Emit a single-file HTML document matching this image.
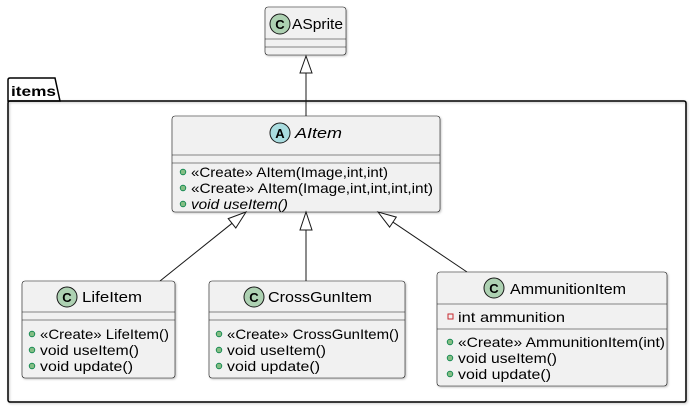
<!DOCTYPE html>
<html><head><meta charset="utf-8"><style>
html,body{margin:0;padding:0;background:#fff;width:690px;height:408px;overflow:hidden}
svg text{font-family:"Liberation Sans",sans-serif;fill:#000}
.n{font-size:15px}.m{font-size:14px}
</style></head><body>
<svg width="690" height="408" xmlns="http://www.w3.org/2000/svg">
<defs><filter id="s" x="-5%" y="-5%" width="110%" height="115%"><feDropShadow dx="1" dy="1" stdDeviation="1" flood-opacity="0.25"/></filter></defs>
<path d="M8,101 L8,80 Q8,78 10,78 L55,78 L60,101 Z" fill="none" stroke="#000" stroke-width="1.5"/>
<rect x="8" y="101" width="678" height="301" rx="2" fill="none" stroke="#000" stroke-width="1.5" filter="url(#s)"/>
<text x="11" y="96" style="font-size:14px;font-weight:bold" textLength="45" lengthAdjust="spacingAndGlyphs">items</text>
<!-- ASprite -->
<rect x="265" y="7" width="81" height="48" rx="3" fill="#f1f1f1" stroke="#181818" stroke-width="0.6" filter="url(#s)"/>
<line x1="265" y1="39" x2="346" y2="39" stroke="#181818" stroke-width="0.6"/>
<line x1="265" y1="47" x2="346" y2="47" stroke="#181818" stroke-width="0.6"/>
<circle cx="280" cy="24" r="10" fill="#add1b2" stroke="#181818" stroke-width="1"/>
<text x="280" y="29" text-anchor="middle" style="font-size:13px;font-weight:bold">C</text>
<text x="292" y="29" class="n" textLength="51" lengthAdjust="spacingAndGlyphs">ASprite</text>
<line x1="306" y1="73" x2="306" y2="116" stroke="#181818"/>
<polygon points="306,56 300,73 312,73" fill="#fff" stroke="#181818"/>
<!-- AItem -->
<rect x="172" y="116" width="268" height="96" rx="3" fill="#f1f1f1" stroke="#181818" stroke-width="0.6" filter="url(#s)"/>
<line x1="172" y1="155" x2="440" y2="155" stroke="#181818" stroke-width="0.6"/>
<line x1="172" y1="163" x2="440" y2="163" stroke="#181818" stroke-width="0.6"/>
<circle cx="280" cy="133" r="10" fill="#a9dcdf" stroke="#181818" stroke-width="1"/>
<text x="280" y="138" text-anchor="middle" style="font-size:13px;font-weight:bold">A</text>
<text x="295" y="138" class="n" font-style="italic" textLength="47" lengthAdjust="spacingAndGlyphs">AItem</text>
<circle cx="183" cy="172" r="2.8" fill="#84be84" stroke="#038048" stroke-width="0.8"/>
<text x="191" y="177" class="m" textLength="197" lengthAdjust="spacingAndGlyphs">«Create» AItem(Image,int,int)</text>
<circle cx="183" cy="188" r="2.8" fill="#84be84" stroke="#038048" stroke-width="0.8"/>
<text x="191" y="193" class="m" textLength="242" lengthAdjust="spacingAndGlyphs">«Create» AItem(Image,int,int,int,int)</text>
<circle cx="183" cy="204" r="2.8" fill="#84be84" stroke="#038048" stroke-width="0.8"/>
<text x="191" y="209" class="m" font-style="italic" textLength="97" lengthAdjust="spacingAndGlyphs">void useItem()</text>
<!-- arrows -->
<line x1="232" y1="223.3" x2="160" y2="281" stroke="#181818"/>
<polygon points="246,212 235.8,228 228.2,218.6" fill="#fff" stroke="#181818"/>
<line x1="306" y1="230" x2="306" y2="281" stroke="#181818"/>
<polygon points="306,212 300,230 312,230" fill="#fff" stroke="#181818"/>
<line x1="392.9" y1="222.1" x2="467" y2="272" stroke="#181818"/>
<polygon points="378,212 389.6,227.1 396.3,217.1" fill="#fff" stroke="#181818"/>
<!-- LifeItem -->
<rect x="22" y="281" width="153" height="97" rx="3" fill="#f1f1f1" stroke="#181818" stroke-width="0.6" filter="url(#s)"/>
<line x1="22" y1="312" x2="175" y2="312" stroke="#181818" stroke-width="0.6"/>
<line x1="22" y1="320" x2="175" y2="320" stroke="#181818" stroke-width="0.6"/>
<circle cx="67" cy="297" r="10" fill="#add1b2" stroke="#181818" stroke-width="1"/>
<text x="67" y="302" text-anchor="middle" style="font-size:13px;font-weight:bold">C</text>
<text x="82" y="302" class="n" textLength="60" lengthAdjust="spacingAndGlyphs">LifeItem</text>
<circle cx="32" cy="334" r="2.8" fill="#84be84" stroke="#038048" stroke-width="0.8"/>
<text x="40" y="339" class="m" textLength="129" lengthAdjust="spacingAndGlyphs">«Create» LifeItem()</text>
<circle cx="32" cy="350" r="2.8" fill="#84be84" stroke="#038048" stroke-width="0.8"/>
<text x="40" y="355" class="m" textLength="99" lengthAdjust="spacingAndGlyphs">void useItem()</text>
<circle cx="32" cy="366" r="2.8" fill="#84be84" stroke="#038048" stroke-width="0.8"/>
<text x="40" y="371" class="m" textLength="93" lengthAdjust="spacingAndGlyphs">void update()</text>
<!-- CrossGunItem -->
<rect x="209" y="281" width="196" height="97" rx="3" fill="#f1f1f1" stroke="#181818" stroke-width="0.6" filter="url(#s)"/>
<line x1="209" y1="312" x2="405" y2="312" stroke="#181818" stroke-width="0.6"/>
<line x1="209" y1="320" x2="405" y2="320" stroke="#181818" stroke-width="0.6"/>
<circle cx="254" cy="297" r="10" fill="#add1b2" stroke="#181818" stroke-width="1"/>
<text x="254" y="302" text-anchor="middle" style="font-size:13px;font-weight:bold">C</text>
<text x="268" y="302" class="n" textLength="104" lengthAdjust="spacingAndGlyphs">CrossGunItem</text>
<circle cx="219" cy="334" r="2.8" fill="#84be84" stroke="#038048" stroke-width="0.8"/>
<text x="227" y="339" class="m" textLength="172" lengthAdjust="spacingAndGlyphs">«Create» CrossGunItem()</text>
<circle cx="219" cy="350" r="2.8" fill="#84be84" stroke="#038048" stroke-width="0.8"/>
<text x="227" y="355" class="m" textLength="99" lengthAdjust="spacingAndGlyphs">void useItem()</text>
<circle cx="219" cy="366" r="2.8" fill="#84be84" stroke="#038048" stroke-width="0.8"/>
<text x="227" y="371" class="m" textLength="93" lengthAdjust="spacingAndGlyphs">void update()</text>
<!-- AmmunitionItem -->
<rect x="437" y="272" width="230" height="114" rx="3" fill="#f1f1f1" stroke="#181818" stroke-width="0.6" filter="url(#s)"/>
<line x1="437" y1="304" x2="667" y2="304" stroke="#181818" stroke-width="0.6"/>
<line x1="437" y1="329" x2="667" y2="329" stroke="#181818" stroke-width="0.6"/>
<circle cx="494" cy="288" r="10" fill="#add1b2" stroke="#181818" stroke-width="1"/>
<text x="494" y="293" text-anchor="middle" style="font-size:13px;font-weight:bold">C</text>
<text x="510" y="294" class="n" textLength="116" lengthAdjust="spacingAndGlyphs">AmmunitionItem</text>
<rect x="448" y="314" width="5" height="5" fill="none" stroke="#c82930" stroke-width="1"/>
<text x="458" y="322" class="m" textLength="107" lengthAdjust="spacingAndGlyphs">int ammunition</text>
<circle cx="450" cy="342" r="2.8" fill="#84be84" stroke="#038048" stroke-width="0.8"/>
<text x="458" y="347" class="m" textLength="207" lengthAdjust="spacingAndGlyphs">«Create» AmmunitionItem(int)</text>
<circle cx="450" cy="358" r="2.8" fill="#84be84" stroke="#038048" stroke-width="0.8"/>
<text x="458" y="363" class="m" textLength="99" lengthAdjust="spacingAndGlyphs">void useItem()</text>
<circle cx="450" cy="374" r="2.8" fill="#84be84" stroke="#038048" stroke-width="0.8"/>
<text x="458" y="379" class="m" textLength="93" lengthAdjust="spacingAndGlyphs">void update()</text>
</svg>
</body></html>
